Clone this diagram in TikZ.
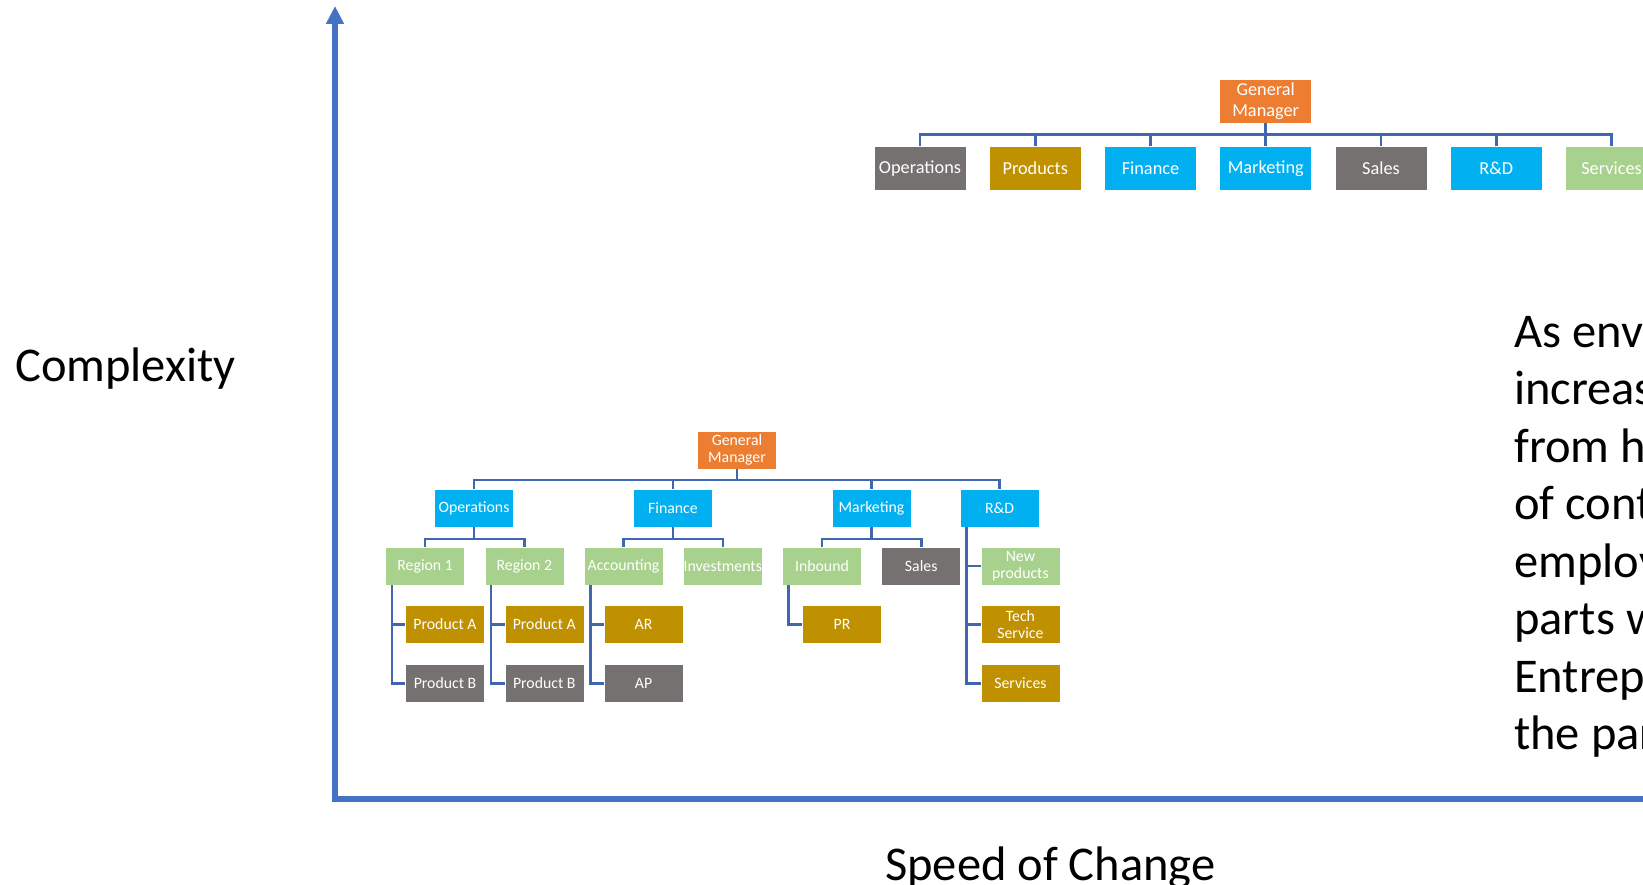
\documentclass[tikz,border=0pt]{standalone}
\usepackage{fontspec}
\setmainfont{Carlito}
\usetikzlibrary{arrows.meta}
\definecolor{gmorange}{HTML}{ED7D31}
\definecolor{dblue}{HTML}{00B0F0}
\definecolor{dgray}{HTML}{767171}
\definecolor{dgold}{HTML}{BF9000}
\definecolor{dgreen}{HTML}{A9D18E}
\definecolor{connblue}{HTML}{4066B0}
\definecolor{axisblue}{HTML}{4472C4}
\tikzset{
  bigbox/.style={rectangle, minimum width=92pt, minimum height=44pt, inner sep=0pt,
    draw=white, line width=0.6pt, text=white, align=center,
    font=\fontsize{18.3}{21}\selectfont},
  smallbox/.style={rectangle, minimum width=79pt, minimum height=38pt, inner sep=0pt,
    draw=white, line width=0.6pt, text=white, align=center,
    font=\fontsize{15.8}{17.5}\selectfont},
  conn/.style={connblue, line width=2.6pt},
  axis/.style={axisblue, line width=5.5pt, {Triangle[width=17pt,length=18pt]}-{Triangle[width=17pt,length=18pt]}},
  bigtext/.style={font=\fontsize{48.5}{57}\selectfont, inner sep=0pt}
}
\begin{document}
\begin{tikzpicture}[x=1pt,y=-1pt]
\useasboundingbox (0,0) rectangle (1643,885);
\clip (0,0) rectangle (1643,885);
% axes
\coordinate (ytop) at (335,6);
\coordinate (origin) at (335,799);
\coordinate (xend) at (1662,799);
\draw[axis] (ytop) -- (origin) -- (xend);
\node[bigtext, anchor=base west] (ylabel) at (15,381) {Complexity};
\node[bigtext, anchor=base west] (xlabel) at (885,880) {Speed of Change};
\foreach \ln [count=\k from 0] in {As env, increas, from h, of cont, employ, parts w, Entrep, the par}
\node[bigtext, anchor=base west] (note\k) at (1514,{347+57.5*\k}) {\ln};
% flat structure
\node[bigbox, fill=gmorange] (tgm) at (1265.7,101) {General\\Manager};
\foreach \lbl/\col [count=\i from 0] in {Operations/dgray, Products/dgold, Finance/dblue,
  Marketing/dblue, Sales/dgray, R\&D/dblue, Services/dgreen}
\node[bigbox, fill=\col] (t\i) at ({920+115.25*\i},168.7) {\lbl};
\foreach \i in {0,...,6}
\draw[conn] (tgm.south) -- ++(0,11.5) -| (t\i.north);
% tall structure
\node[smallbox, fill=gmorange] (bgm) at (737,450) {General\\Manager};
\node[smallbox, fill=dblue] (ops) at (474,508) {Operations};
\node[smallbox, fill=dblue] (fin) at (673,508) {Finance};
\node[smallbox, fill=dblue] (mkt) at (871.5,508) {Marketing};
\node[smallbox, fill=dblue] (rnd) at (999.6,508) {R\&D};
\foreach \c in {ops,fin,mkt,rnd}
\draw[conn] (bgm.south) -- ++(0,10.5) -| (\c.north);
\node[smallbox, fill=dgreen] (reg1) at (425.1,566) {Region 1};
\node[smallbox, fill=dgreen] (reg2) at (524.3,566) {Region 2};
\node[smallbox, fill=dgreen] (acc) at (623.5,566) {Accounting};
\node[smallbox, fill=dgreen] (inv) at (722.8,566) {Investments};
\node[smallbox, fill=dgreen] (inb) at (822,566) {Inbound};
\node[smallbox, fill=dgray] (msales) at (921.2,566) {Sales};
\draw[conn] (ops.south) -- ++(0,11.6) -| (reg1.north);
\draw[conn] (ops.south) -- ++(0,11.6) -| (reg2.north);
\draw[conn] (fin.south) -- ++(0,11.6) -| (acc.north);
\draw[conn] (fin.south) -- ++(0,11.6) -| (inv.north);
\draw[conn] (mkt.south) -- ++(0,11.6) -| (inb.north);
\draw[conn] (mkt.south) -- ++(0,11.6) -| (msales.north);
\node[smallbox, fill=dgold] (pa1) at (445,624.5) {Product A};
\node[smallbox, fill=dgray] (pb1) at (445,683.2) {Product B};
\node[smallbox, fill=dgold] (pa2) at (544.3,624.5) {Product A};
\node[smallbox, fill=dgray] (pb2) at (544.3,683.2) {Product B};
\node[smallbox, fill=dgold] (ar) at (643.5,624.5) {AR};
\node[smallbox, fill=dgray] (ap) at (643.5,683.2) {AP};
\node[smallbox, fill=dgold] (pr) at (842,624.5) {PR};
\node[smallbox, fill=dgreen] (newp) at (1020.4,566) {New\\products};
\node[smallbox, fill=dgold] (tech) at (1020.4,624.5) {Tech\\Service};
\node[smallbox, fill=dgold] (serv) at (1020.4,683.2) {Services};
\draw[conn] ([xshift=6.5pt]reg1.south west) |- (pa1.west);
\draw[conn] ([xshift=6.5pt]reg1.south west) |- (pb1.west);
\draw[conn] ([xshift=6.5pt]reg2.south west) |- (pa2.west);
\draw[conn] ([xshift=6.5pt]reg2.south west) |- (pb2.west);
\draw[conn] ([xshift=6.5pt]acc.south west) |- (ar.west);
\draw[conn] ([xshift=6.5pt]acc.south west) |- (ap.west);
\draw[conn] ([xshift=6.5pt]inb.south west) |- (pr.west);
\draw[conn] ([xshift=6.5pt]rnd.south west) |- (newp.west);
\draw[conn] ([xshift=6.5pt]rnd.south west) |- (tech.west);
\draw[conn] ([xshift=6.5pt]rnd.south west) |- (serv.west);
\end{tikzpicture}
\end{document}
